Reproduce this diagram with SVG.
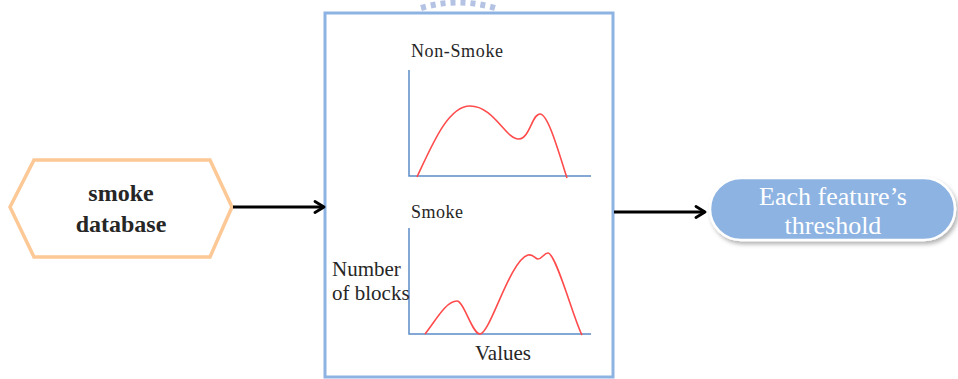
<svg xmlns="http://www.w3.org/2000/svg" width="958" height="379" viewBox="0 0 958 379">
<defs>
<style>
.lbl{font-family:"Liberation Serif","Times New Roman",serif;fill:#262626}
.axis{stroke:#5B8CC8;stroke-width:1.5;fill:none}
.curve{stroke:#FF4B4B;stroke-width:1.6;fill:none}
.conn{stroke:#000;stroke-width:3;fill:none}
</style>
<marker id="arr" viewBox="0 0 14 14" refX="12" refY="7" markerWidth="14" markerHeight="14" markerUnits="userSpaceOnUse" orient="auto">
<path d="M3,1.5 L12,7 L3,12.5" fill="none" stroke="#000" stroke-width="2.8" stroke-linecap="round" stroke-linejoin="round"/>
</marker>
<filter id="sh" x="-10%" y="-20%" width="125%" height="150%">
<feDropShadow dx="2" dy="3" stdDeviation="2" flood-color="#000" flood-opacity="0.3"/>
</filter>
</defs>
<rect width="958" height="379" fill="#fff"/>
<path d="M421,8 Q458,-3 495,8" fill="none" stroke="#B4C3E3" stroke-width="6" stroke-dasharray="5,5"/>
<g id="db">
<polygon points="10,207 34,160 210,160 232,207 210,257 34,257" fill="#fff" stroke="#FCC895" stroke-width="3.5"/>
<text class="lbl" x="121" y="201" font-size="24" font-weight="bold" text-anchor="middle">smoke</text>
<text class="lbl" x="121" y="232" font-size="24" font-weight="bold" text-anchor="middle">database</text>
</g>
<g id="hist">
<rect x="325" y="13" width="288" height="364" fill="#fff" stroke="#8DB3E2" stroke-width="3"/>
<text class="lbl" x="411" y="57" font-size="18" textLength="92">Non-Smoke</text>
<path class="axis" d="M409,70 V176 H591"/>
<path class="curve" d="M417,177 C432,145 448,106 470,106 C494,106 506,140 519,139 C530,138 532,114 540,114 C548,114 558,150 567,178"/>
<text class="lbl" x="411" y="218" font-size="18" textLength="52">Smoke</text>
<path class="axis" d="M409,228 V334 H591"/>
<path class="curve" d="M425,334 C436,320 446,301 457,301 C464,301 472,334 480,334 C490,334 510,260 528,255 C534,254 535,259 538,259 C542,259 544,253 548,253 C556,253 574,320 582,335"/>
<text class="lbl" x="332" y="276" font-size="21">Number</text>
<text class="lbl" x="332" y="300" font-size="21">of blocks</text>
<text class="lbl" x="475" y="360" font-size="21">Values</text>
</g>
<g id="thr">
<rect x="710" y="178" width="245" height="62" rx="31" fill="#8DB3E2" stroke="#fff" stroke-width="2.5" filter="url(#sh)"/>
<text x="833" y="205" font-size="26" text-anchor="middle" style="font-family:'Liberation Serif','Times New Roman',serif;fill:#fff">Each feature’s</text>
<text x="833" y="234" font-size="26" text-anchor="middle" style="font-family:'Liberation Serif','Times New Roman',serif;fill:#fff">threshold</text>
</g>
<g id="connectors">
<line class="conn" x1="233" y1="207" x2="324" y2="207" marker-end="url(#arr)"/>
<line class="conn" x1="614" y1="212" x2="705" y2="212" marker-end="url(#arr)"/>
</g>
</svg>
